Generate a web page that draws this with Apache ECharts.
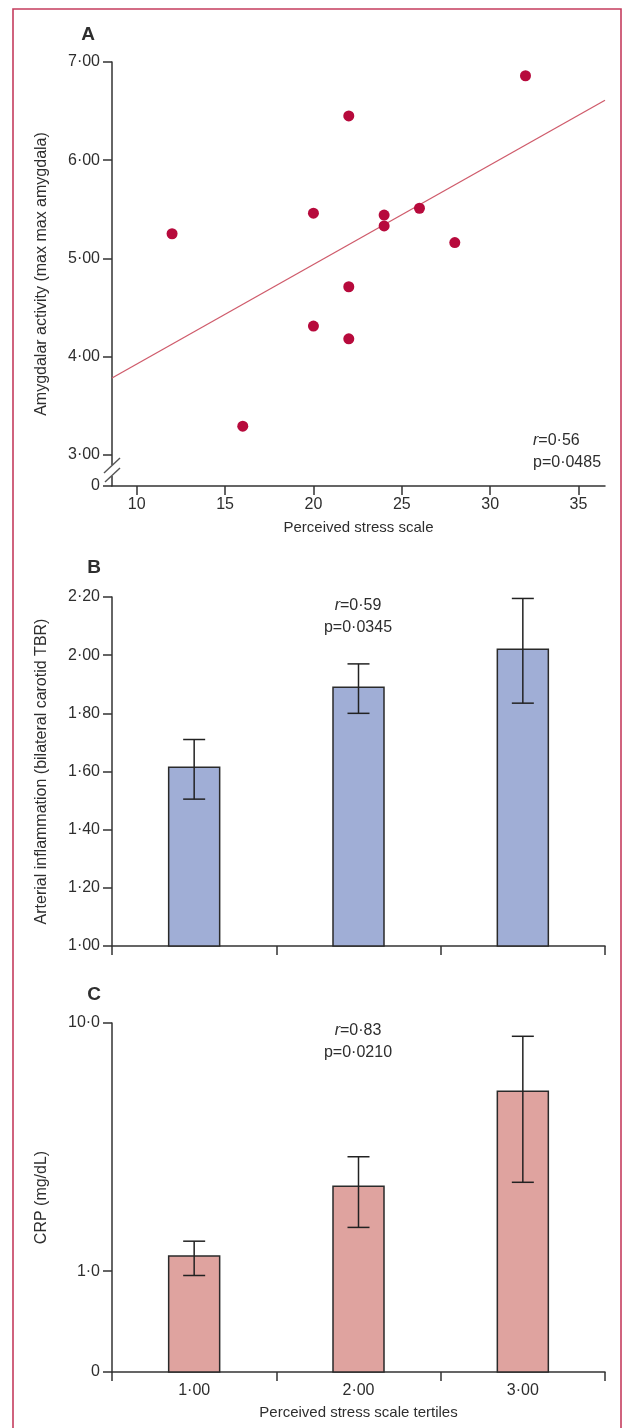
<!DOCTYPE html>
<html>
<head>
<meta charset="utf-8">
<script src="https://cdn.jsdelivr.net/npm/echarts@6.0.0/dist/echarts.min.js"></script>
<style>
  html, body { margin: 0; padding: 0; background: #fff; }
  #chart { width: 627px; height: 1428px; }
</style>
</head>
<body>
<div id="chart"></div>
<script>
  // panel A: perceived stress vs amygdalar activity
  const stressA = [12, 16, 20, 20, 22, 22, 22, 24, 24, 26, 28, 32]
  const amygdalaA = [5.25, 3.29, 5.46, 4.31, 6.45, 4.71, 4.18, 5.44, 5.33, 5.51, 5.16, 6.86]
  const fitX = [8.6, 36.5]
  const fitY = [3.78, 6.61]
  const xTicksA = [10, 15, 20, 25, 30, 35]
  const yTicksA = [3, 4, 5, 6, 7]

  // panels B and C: tertiles
  const tertiles = ['1·00', '2·00', '3·00']
  const tbrMean = [1.615, 1.89, 2.02]
  const tbrLow = [1.505, 1.80, 1.835]
  const tbrHigh = [1.71, 1.97, 2.195]
  const crpMean = [1.15, 2.20, 5.31]
  const crpLow = [0.96, 1.50, 2.28]
  const crpHigh = [1.32, 2.89, 8.84]

  const yMinA = 2.68 // bottom of the broken axis, labelled 0
  const yMinC = 0.392 // bottom of the log axis, labelled 0

  const FONT = '"Liberation Sans", Arial, sans-serif'
  const TXT = '#2e2e2e'
  const AX = '#333'

  const dot = v => String(v).replace('.', '·')

  const axisLine = { show: true, onZero: false, lineStyle: { color: AX, width: 1.5 } }
  const tick = { show: true, length: 9, lineStyle: { color: AX, width: 1.5 } }
  const label = { color: TXT, fontSize: 16, fontFamily: FONT }
  const nameStyle = { color: TXT, fontSize: 16, fontFamily: FONT }
  const xNameStyle = { color: TXT, fontSize: 15, fontFamily: FONT }

  function barItem(fill, base) {
    return function(params, api) {
      const top = api.coord([api.value(0), api.value(1)])
      const bottom = api.coord([api.value(0), base])
      const w = 51
      return {
        type: 'rect',
        shape: { x: top[0] - w / 2, y: top[1], width: w, height: bottom[1] - top[1] },
        style: { fill: fill, stroke: '#2a2a2a', lineWidth: 1.5 }
      }
    }
  }

  function errItem(params, api) {
    const lo = api.coord([api.value(0), api.value(1)])
    const hi = api.coord([api.value(0), api.value(2)])
    const c = 11
    const st = { stroke: '#222', lineWidth: 1.5 }
    return {
      type: 'group',
      children: [
        { type: 'line', shape: { x1: lo[0], y1: lo[1], x2: hi[0], y2: hi[1] }, style: st },
        { type: 'line', shape: { x1: lo[0] - c, y1: lo[1], x2: lo[0] + c, y2: lo[1] }, style: st },
        { type: 'line', shape: { x1: hi[0] - c, y1: hi[1], x2: hi[0] + c, y2: hi[1] }, style: st }
      ]
    }
  }

  function statText(x, y, lines, align) {
    return lines.map((t, k) => ({
      type: 'text',
      x: x,
      y: y + k * 22,
      z: 50,
      style: {
        text: t,
        fill: TXT,
        fontSize: 16,
        fontFamily: FONT,
        align: align,
        verticalAlign: 'middle',
        rich: { i: { fontStyle: 'italic', fontSize: 16, fontFamily: FONT, fill: TXT } }
      }
    }))
  }

  function letter(t, x, y) {
    return {
      type: 'text', x: x, y: y, z: 50,
      style: { text: t, fill: TXT, fontSize: 19, fontWeight: 'bold', fontFamily: FONT, align: 'center', verticalAlign: 'middle' }
    }
  }

  const option = {
    animation: false,
    backgroundColor: '#fff',
    grid: [
      { left: 112, top: 62, width: 493, height: 424 },
      { left: 112, top: 597, width: 493, height: 349 },
      { left: 112, top: 1023, width: 493, height: 349 }
    ],
    xAxis: [
      {
        gridIndex: 0, type: 'value', min: fitX[0], max: fitX[1],
        axisLine: axisLine,
        axisTick: Object.assign({}, tick, { customValues: xTicksA }),
        axisLabel: Object.assign({}, label, { customValues: xTicksA, margin: 11 }),
        splitLine: { show: false },
        name: 'Perceived stress scale', nameLocation: 'middle', nameGap: 34, nameTextStyle: xNameStyle
      },
      {
        gridIndex: 1, type: 'category', data: tertiles,
        axisLine: axisLine, axisTick: tick, axisLabel: { show: false }, splitLine: { show: false }
      },
      {
        gridIndex: 2, type: 'category', data: tertiles,
        axisLine: axisLine, axisTick: tick,
        axisLabel: Object.assign({}, label, { margin: 11 }),
        splitLine: { show: false },
        name: 'Perceived stress scale tertiles', nameLocation: 'middle', nameGap: 33, nameTextStyle: xNameStyle
      }
    ],
    yAxis: [
      {
        gridIndex: 0, type: 'value', min: yMinA, max: 7,
        axisLine: axisLine,
        axisTick: Object.assign({}, tick, { customValues: [yMinA].concat(yTicksA) }),
        axisLabel: Object.assign({}, label, {
          customValues: [yMinA].concat(yTicksA), margin: 12,
          formatter: v => (v < 2.9 ? '0' : dot(v.toFixed(2)))
        }),
        splitLine: { show: false },
        name: 'Amygdalar activity (max max amygdala)', nameLocation: 'middle', nameGap: 62, nameTextStyle: nameStyle
      },
      {
        gridIndex: 1, type: 'value', min: 1, max: 2.2, interval: 0.2,
        axisLine: axisLine, axisTick: tick,
        axisLabel: Object.assign({}, label, { margin: 12, formatter: v => dot(v.toFixed(2)) }),
        splitLine: { show: false },
        name: 'Arterial inflammation (bilateral carotid TBR)', nameLocation: 'middle', nameGap: 62, nameTextStyle: nameStyle
      },
      {
        gridIndex: 2, type: 'log', logBase: 10, min: yMinC, max: 10,
        axisLine: axisLine, axisTick: tick,
        axisLabel: Object.assign({}, label, { margin: 12, formatter: v => (v < 0.9 ? '0' : dot(v.toFixed(1))) }),
        splitLine: { show: false },
        name: 'CRP (mg/dL)', nameLocation: 'middle', nameGap: 62, nameTextStyle: nameStyle
      }
    ],
    series: [
      {
        type: 'line', xAxisIndex: 0, yAxisIndex: 0, silent: true,
        data: [[fitX[0], fitY[0]], [fitX[1], fitY[1]]],
        symbol: 'none', lineStyle: { color: '#cf5b6b', width: 1.3 }, z: 2
      },
      {
        type: 'scatter', xAxisIndex: 0, yAxisIndex: 0,
        data: stressA.map((x, i) => [x, amygdalaA[i]]),
        symbolSize: 11, itemStyle: { color: '#b70a3c', opacity: 1 }, z: 3
      },
      {
        type: 'custom', xAxisIndex: 1, yAxisIndex: 1, z: 2,
        renderItem: barItem('#a0aed6', 1),
        data: tbrMean.map((v, i) => [i, v])
      },
      {
        type: 'custom', xAxisIndex: 1, yAxisIndex: 1, z: 3,
        renderItem: errItem,
        data: tbrMean.map((v, i) => [i, tbrLow[i], tbrHigh[i]])
      },
      {
        type: 'custom', xAxisIndex: 2, yAxisIndex: 2, z: 2,
        renderItem: barItem('#dfa39f', yMinC),
        data: crpMean.map((v, i) => [i, v])
      },
      {
        type: 'custom', xAxisIndex: 2, yAxisIndex: 2, z: 3,
        renderItem: errItem,
        data: crpMean.map((v, i) => [i, crpLow[i], crpHigh[i]])
      }
    ],
    graphic: [
      // outer frame
      {
        type: 'rect', z: 1, silent: true,
        shape: { x: 13, y: 9, width: 608, height: 1440 },
        style: { fill: 'none', stroke: '#c53d5e', lineWidth: 1.6 }
      },
      // axis break marks on panel A
      { type: 'rect', z: 60, shape: { x: 107, y: 465, width: 9, height: 11 }, style: { fill: '#fff' } },
      { type: 'line', z: 61, shape: { x1: 104, y1: 473, x2: 120, y2: 458 }, style: { stroke: '#555', lineWidth: 1.4 } },
      { type: 'line', z: 61, shape: { x1: 105, y1: 482, x2: 120, y2: 468 }, style: { stroke: '#555', lineWidth: 1.4 } },
      letter('A', 88, 35),
      letter('B', 94, 568),
      letter('C', 94, 995)
    ]
      .concat(statText(533, 441, ['{i|r}=0·56', 'p=0·0485'], 'left'))
      .concat(statText(358, 606, ['{i|r}=0·59', 'p=0·0345'], 'center'))
      .concat(statText(358, 1031, ['{i|r}=0·83', 'p=0·0210'], 'center'))
  }

  const chart = echarts.init(document.getElementById('chart'))
  chart.setOption(option)
</script>
</body>
</html>
